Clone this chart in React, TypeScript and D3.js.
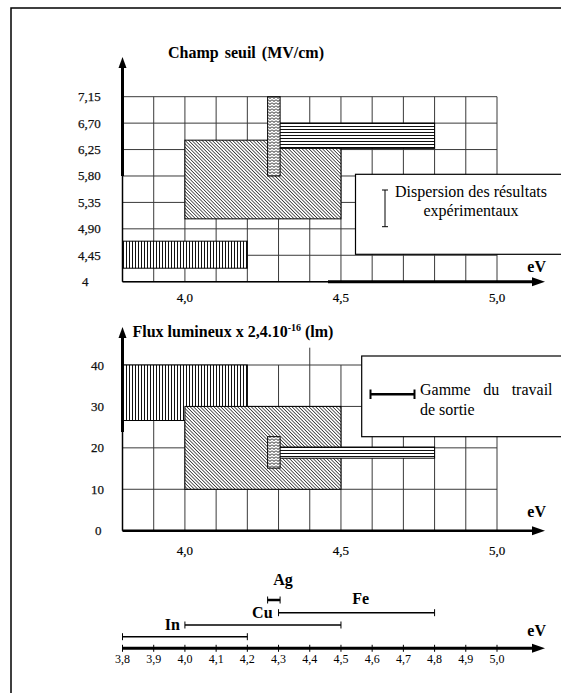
import React from "react";
import * as d3 from "d3";

// ---- data ----
const metals = ["In", "Cu", "Ag", "Fe"];
const workMin = [3.8, 4.0, 4.265, 4.3];
const workMax = [4.2, 4.5, 4.305, 4.8];
const patterns = ["vlines", "diag", "wave", "hlines"];
const fieldMin = [4.23, 5.07, 5.8, 6.27];
const fieldMax = [4.69, 6.41, 7.15, 6.7];
const fluxMin = [26.6, 10, 15.1, 17.5];
const fluxMax = [40, 30, 22.7, 20.2];
const drawOrder = [0, 1, 3, 2];

const fieldTicks = [4, 4.45, 4.9, 5.35, 5.8, 6.25, 6.7, 7.15];
const fieldTickLabels = ["4", "4,45", "4,90", "5,35", "5,80", "6,25", "6,70", "7,15"];
const fluxTicks = [0, 10, 20, 30, 40];
const fluxTickLabels = ["0", "10", "20", "30", "40"];
const majorTicks = [4.0, 4.5, 5.0];
const majorTickLabels = ["4,0", "4,5", "5,0"];
const evTicks = [3.8, 3.9, 4.0, 4.1, 4.2, 4.3, 4.4, 4.5, 4.6, 4.7, 4.8, 4.9, 5.0];
const evTickLabels = ["3,8", "3,9", "4,0", "4,1", "4,2", "4,3", "4,4", "4,5", "4,6", "4,7", "4,8", "4,9", "5,0"];

// ---- layout ----
const W = 561, H = 693;
const x = d3.scaleLinear().domain([3.8, 5.0]).range([122.5, 497]);
const yTop = d3.scaleLinear().domain([4, 7.15]).range([281.7, 96.7]);
const yBot = d3.scaleLinear().domain([0, 40]).range([530.7, 365]);
const axis3Y = 648.3;
const rowY = [636.7, 625, 600, 612.7];
const serif = "'Liberation Serif', 'Times New Roman', Times, serif";
const gridColor = "#3a3a3a";

function Arrow({ x0, y0, dir }: { x0: number; y0: number; dir: "up" | "right" }) {
  const p = dir === "up"
    ? `M${x0},${y0} L${x0 - 4},${y0 + 11} L${x0 + 4},${y0 + 11} Z`
    : `M${x0},${y0} L${x0 - 13},${y0 - 4.5} L${x0 - 13},${y0 + 4.5} Z`;
  return <path d={p} fill="#000" />;
}

function Panel({ y, ticks, tickLabels, mins, maxs, yLabelX, gridTopExtra }: any) {
  const [d0, d1] = y.domain();
  const xs = x.ticks(12);
  return (
    <g>
      {xs.map((v: number, i: number) => (
        <line key={"v" + i} x1={x(v)} x2={x(v)} y1={y(d0)} y2={y(d1)} stroke={gridColor} strokeWidth={1} />
      ))}
      {ticks.map((v: number, i: number) => (
        <line key={"h" + i} x1={x(3.8)} x2={x(5.0)} y1={y(v)} y2={y(v)} stroke={gridColor} strokeWidth={1} />
      ))}
      {gridTopExtra}
      {drawOrder.map((i) => (
        <rect key={"r" + i}
          x={x(workMin[i])} width={x(workMax[i]) - x(workMin[i])}
          y={y(maxs[i])} height={y(mins[i]) - y(maxs[i])}
          fill={`url(#${patterns[i]})`} stroke="#000" strokeWidth={1} />
      ))}
      {ticks.map((v: number, i: number) => (
        <text key={"t" + i} x={tickLabels[i].length === 1 ? yLabelX + 4 : yLabelX} y={y(v) + 4.5}
          fontFamily={serif} fontSize={13} fill="#111" stroke="#111" strokeWidth={0.25}>{tickLabels[i]}</text>
      ))}
    </g>
  );
}

export default function App() {
  return (
    <svg width={W} height={H} style={{ position: "absolute", left: 0, top: 0, background: "#fff" }}>
      <defs>
        <pattern id="vlines" patternUnits="userSpaceOnUse" width={3} height={3}>
          <rect width={3} height={3} fill="#fff" />
          <line x1={0.5} x2={0.5} y1={0} y2={3} stroke="#111" strokeWidth={1} />
        </pattern>
        <pattern id="hlines" patternUnits="userSpaceOnUse" width={3} height={3}>
          <rect width={3} height={3} fill="#fff" />
          <line y1={0.5} y2={0.5} x1={0} x2={3} stroke="#111" strokeWidth={1} />
        </pattern>
        <pattern id="diag" patternUnits="userSpaceOnUse" width={2.4} height={4} patternTransform="rotate(-45)">
          <rect width={2.4} height={4} fill="#fff" />
          <line x1={0.4} x2={0.4} y1={0} y2={4} stroke="#222" strokeWidth={0.8} />
        </pattern>
        <pattern id="wave" patternUnits="userSpaceOnUse" width={4} height={3}>
          <rect width={4} height={3} fill="#fff" />
          <path d="M0,0.5 L2,2.5 L4,0.5" stroke="#111" strokeWidth={1} fill="none" />
        </pattern>
      </defs>

      {/* outer frame */}
      <rect x={11} y={8} width={600} height={720} fill="none" stroke="#000" strokeWidth={1.5} />

      {/* ===== top panel ===== */}
      <Panel y={yTop} ticks={fieldTicks} tickLabels={fieldTickLabels} mins={fieldMin} maxs={fieldMax} yLabelX={78} />
      <line x1={x(3.8)} x2={x(3.8)} y1={66} y2={176} stroke="#000" strokeWidth={3} />
      <line x1={x(3.8)} x2={x(3.8)} y1={176} y2={yTop(4)} stroke="#000" strokeWidth={1.5} />
      <Arrow x0={x(3.8)} y0={57} dir="up" />
      <line x1={x(3.8)} x2={328} y1={yTop(4)} y2={yTop(4)} stroke="#000" strokeWidth={1.5} />
      <line x1={328} x2={534} y1={yTop(4)} y2={yTop(4)} stroke="#000" strokeWidth={3} />
      <Arrow x0={545} y0={yTop(4)} dir="right" />
      <text x={546} y={271.5} textAnchor="end" fontFamily={serif} fontSize={16} fontWeight="bold">eV</text>
      <text x={168} y={58} fontFamily={serif} fontSize={16} fontWeight="bold" wordSpacing={2}>Champ seuil (MV/cm)</text>
      {majorTicks.map((v, i) => (
        <text key={"mt" + i} x={x(v)} y={301.5} textAnchor="middle" fontFamily={serif} fontSize={13} stroke="#000" strokeWidth={0.2}>{majorTickLabels[i]}</text>
      ))}
      {/* legend 1 */}
      <rect x={355.5} y={174.3} width={220} height={80} fill="#fff" stroke="#000" strokeWidth={1.2} />
      <g stroke="#000" strokeWidth={1}>
        <line x1={385} x2={385} y1={190} y2={226.7} />
        <line x1={382} x2={388} y1={190} y2={190} />
        <line x1={382} x2={388} y1={226.7} y2={226.7} />
      </g>
      <text x={471} y={197} textAnchor="middle" fontFamily={serif} fontSize={16}>Dispersion des résultats</text>
      <text x={471} y={216} textAnchor="middle" fontFamily={serif} fontSize={16}>expérimentaux</text>

      {/* ===== middle panel ===== */}
      <Panel y={yBot} ticks={fluxTicks} tickLabels={fluxTickLabels} mins={fluxMin} maxs={fluxMax} yLabelX={91}
        gridTopExtra={<line x1={x(4.4)} x2={x(4.4)} y1={347.7} y2={yBot(40)} stroke={gridColor} strokeWidth={1} />} />
      <line x1={x(3.8)} x2={x(3.8)} y1={336} y2={432} stroke="#000" strokeWidth={3} />
      <line x1={x(3.8)} x2={x(3.8)} y1={432} y2={yBot(0)} stroke="#000" strokeWidth={1.5} />
      <Arrow x0={x(3.8)} y0={327} dir="up" />
      <line x1={x(3.8)} x2={534} y1={yBot(0)} y2={yBot(0)} stroke="#000" strokeWidth={2.5} />
      <Arrow x0={545} y0={yBot(0)} dir="right" />
      <text x={546} y={516.5} textAnchor="end" fontFamily={serif} fontSize={16} fontWeight="bold">eV</text>
      <text x={132.5} y={337} fontFamily={serif} fontSize={16} fontWeight="bold">
        Flux lumineux x 2,4.10<tspan dy={-6} fontSize={10}>-16</tspan><tspan dy={6}> (lm)</tspan>
      </text>
      {majorTicks.map((v, i) => (
        <text key={"mb" + i} x={x(v)} y={554.5} textAnchor="middle" fontFamily={serif} fontSize={13} stroke="#000" strokeWidth={0.2}>{majorTickLabels[i]}</text>
      ))}
      {/* legend 2 */}
      <rect x={361.7} y={356} width={220} height={80.7} fill="#fff" stroke="#000" strokeWidth={1.2} />
      <g stroke="#000">
        <line x1={370} x2={415} y1={394.3} y2={394.3} strokeWidth={2.5} />
        <line x1={370.5} x2={370.5} y1={389.5} y2={399} strokeWidth={2} />
        <line x1={414.5} x2={414.5} y1={389.5} y2={399} strokeWidth={2} />
      </g>
      <text x={420} y={395} fontFamily={serif} fontSize={16} wordSpacing={8.5}>Gamme du travail</text>
      <text x={420} y={414.5} fontFamily={serif} fontSize={16}>de sortie</text>

      {/* ===== bottom axis with work function ranges ===== */}
      <line x1={x(3.8)} x2={534} y1={axis3Y} y2={axis3Y} stroke="#000" strokeWidth={3} />
      <Arrow x0={545} y0={axis3Y} dir="right" />
      {evTicks.map((v, i) => (
        <g key={"et" + i}>
          <line x1={x(v)} x2={x(v)} y1={axis3Y - 3.5} y2={axis3Y + 3.5} stroke="#000" strokeWidth={1} />
          <text x={x(v)} y={663} textAnchor="middle" fontFamily={serif} fontSize={12}>{evTickLabels[i]}</text>
        </g>
      ))}
      <text x={546} y={636} textAnchor="end" fontFamily={serif} fontSize={16} fontWeight="bold">eV</text>
      {metals.map((m, i) => {
        const sw = m === "Ag" ? 2.5 : 1.5;
        return (
          <g key={"m" + i} stroke="#000">
            <line x1={x(workMin[i])} x2={x(workMax[i])} y1={rowY[i]} y2={rowY[i]} strokeWidth={sw} />
            <line x1={x(workMin[i])} x2={x(workMin[i])} y1={rowY[i] - 3.5} y2={rowY[i] + 3.5} strokeWidth={1} />
            <line x1={x(workMax[i])} x2={x(workMax[i])} y1={rowY[i] - 3.5} y2={rowY[i] + 3.5} strokeWidth={1} />
          </g>
        );
      })}
      <text x={x(workMin[1]) - 5} y={rowY[1] + 5} textAnchor="end" fontFamily={serif} fontSize={16} fontWeight="bold">{metals[0]}</text>
      <text x={x(workMin[3]) - 6} y={rowY[3] + 5} textAnchor="end" fontFamily={serif} fontSize={16} fontWeight="bold">{metals[1]}</text>
      <text x={x(workMax[2]) + 3} y={585} textAnchor="middle" fontFamily={serif} fontSize={16} fontWeight="bold">{metals[2]}</text>
      <text x={x((workMin[3] + workMax[3]) / 2) + 4} y={603.5} textAnchor="middle" fontFamily={serif} fontSize={16} fontWeight="bold">{metals[3]}</text>
    </svg>
  );
}
